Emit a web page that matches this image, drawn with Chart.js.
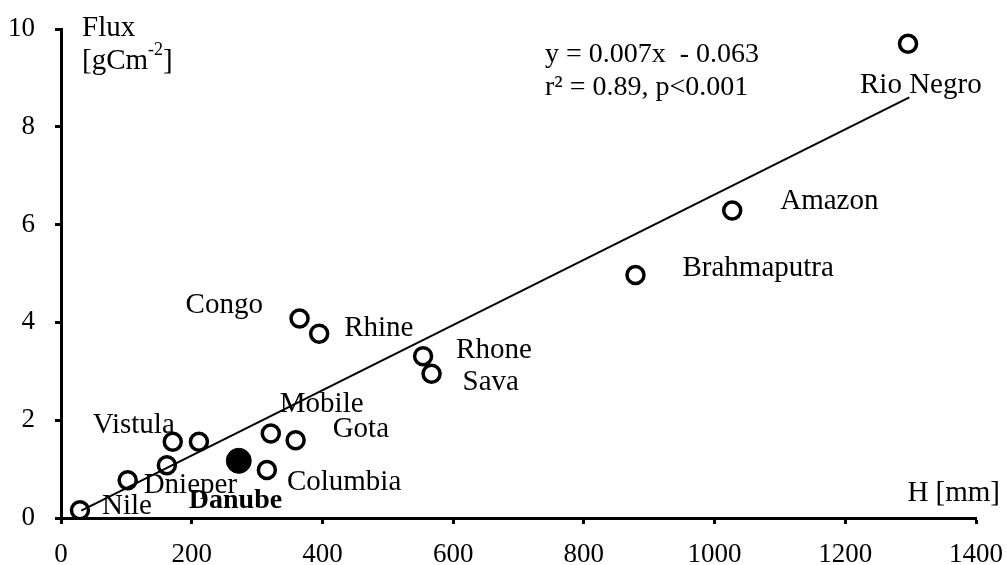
<!DOCTYPE html>
<html>
<head>
<meta charset="utf-8">
<script src="https://cdn.jsdelivr.net/npm/chart.js@4.4.1/dist/chart.umd.min.js"></script>
<style>
  html, body { margin: 0; padding: 0; background: #fff; }
  #wrap { width: 1007px; height: 565px; position: relative; }
</style>
</head>
<body>
<div id="wrap"><canvas id="c" width="1007" height="565"></canvas></div>
<script>
// rivers: H [mm] vs flux [gC m-2]
const rivers = ["Nile", "Dnieper", "", "Vistula", "", "Columbia", "Mobile", "Gota",
  "Congo", "Rhine", "Rhone", "Sava", "Brahmaputra", "Amazon", "Rio Negro"];
const hValues = [29, 102, 162, 171, 211, 315, 321, 359, 365, 395, 554, 567, 879, 1027, 1296];
const fluxValues = [0.16, 0.77, 1.08, 1.56, 1.56, 0.98, 1.73, 1.59, 4.08, 3.77, 3.31, 2.95, 4.97, 6.29, 9.70];

// highlighted river
const danubeName = "Danube";
const danubeH = [272];
const danubeFlux = [1.17];

// fitted line as drawn (end points)
const fitH = [31, 1298];
const fitFlux = [0.15, 8.6];

const xTicks = [0, 200, 400, 600, 800, 1000, 1200, 1400];
const yTicks = [0, 2, 4, 6, 8, 10];

// label offsets in px from the point (text left, baseline)
const labelOffsets = {
  "Nile": [22, 4], "Dnieper": [16, 13], "Vistula": [-80, -9], "Columbia": [20, 20],
  "Mobile": [9, -21], "Gota": [37, -3], "Congo": [-114, -5], "Rhine": [25, 2],
  "Rhone": [33, 2], "Sava": [31, 16], "Brahmaputra": [47, 1], "Amazon": [48, -1],
  "Rio Negro": [-48, 49], "Danube": [-50, 47]
};

const FONT = "'Liberation Serif', 'Times New Roman', serif";
const LABEL_SIZE = 29;

const labelPlugin = {
  id: "riverLabels",
  afterDatasetsDraw(chart) {
    const ctx = chart.ctx;
    const xs = chart.scales.x, ys = chart.scales.y;
    const area = chart.chartArea;
    ctx.save();
    ctx.fillStyle = "#000";
    ctx.textBaseline = "alphabetic";
    ctx.textAlign = "left";
    ctx.font = `${LABEL_SIZE}px ${FONT}`;
    rivers.forEach((name, i) => {
      if (!name) return;
      const o = labelOffsets[name];
      ctx.fillText(name, xs.getPixelForValue(hValues[i]) + o[0], ys.getPixelForValue(fluxValues[i]) + o[1]);
    });
    ctx.font = `bold ${LABEL_SIZE - 1}px ${FONT}`;
    const od = labelOffsets[danubeName];
    ctx.fillText(danubeName, xs.getPixelForValue(danubeH[0]) + od[0], ys.getPixelForValue(danubeFlux[0]) + od[1]);

    // axis titles + equation
    ctx.font = `${LABEL_SIZE}px ${FONT}`;
    ctx.fillText("Flux", area.left + 21, area.top + 7);
    ctx.fillText("[gCm", area.left + 21, area.top + 40);
    let w = ctx.measureText("[gCm").width;
    ctx.font = `18px ${FONT}`;
    ctx.fillText("-2", area.left + 21 + w, area.top + 26);
    let w2 = ctx.measureText("-2").width;
    ctx.font = `${LABEL_SIZE}px ${FONT}`;
    ctx.fillText("]", area.left + 21 + w + w2, area.top + 40);

    ctx.textAlign = "right";
    ctx.fillText("H [mm]", area.right + 24, area.bottom - 17);

    ctx.textAlign = "left";
    ctx.font = `28px ${FONT}`;
    ctx.fillText("y = 0.007x  - 0.063", 545, 62);
    ctx.fillText("r\u00B2 = 0.89, p<0.001", 545, 95);
    ctx.restore();
  }
};

new Chart(document.getElementById("c"), {
  type: "scatter",
  data: {
    datasets: [
      {
        type: "line",
        data: fitH.map((h, i) => ({ x: h, y: fitFlux[i] })),
        borderColor: "#000",
        borderWidth: 2,
        pointRadius: 0,
        fill: false
      },
      {
        data: hValues.map((h, i) => ({ x: h, y: fluxValues[i] })),
        pointStyle: "circle",
        pointRadius: 8.5,
        pointBorderWidth: 3.5,
        pointBorderColor: "#000",
        pointBackgroundColor: "#fff"
      },
      {
        data: danubeH.map((h, i) => ({ x: h, y: danubeFlux[i] })),
        pointStyle: "circle",
        pointRadius: 12.5,
        pointBorderWidth: 1,
        pointBorderColor: "#000",
        pointBackgroundColor: "#000"
      }
    ]
  },
  options: {
    responsive: false,
    animation: false,
    layout: { autoPadding: false, padding: { top: 29, right: 31, left: 0, bottom: 0 } },
    plugins: { legend: { display: false }, tooltip: { enabled: false } },
    scales: {
      x: {
        type: "linear", min: 0, max: 1400,
        afterBuildTicks: (s) => { s.ticks = xTicks.map((v) => ({ value: v })); },
        afterFit: (s) => { s.height = 47; s.paddingLeft = 0; s.paddingRight = 0; },
        border: { color: "#000", width: 3 },
        grid: { drawOnChartArea: false, drawTicks: true, tickLength: 6, tickColor: "#000", tickWidth: 3 },
        ticks: { color: "#000", padding: 15, maxRotation: 0, font: { family: FONT, size: 27 },
          callback: (v) => String(v) }
      },
      y: {
        type: "linear", min: 0, max: 10,
        afterBuildTicks: (s) => { s.ticks = yTicks.map((v) => ({ value: v })); },
        afterFit: (s) => { s.width = 61; s.paddingTop = 0; s.paddingBottom = 0; },
        border: { color: "#000", width: 3 },
        grid: { drawOnChartArea: false, drawTicks: true, tickLength: 6, tickColor: "#000", tickWidth: 3 },
        ticks: { color: "#000", padding: 20, font: { family: FONT, size: 27 },
          callback: (v) => String(v) }
      }
    }
  },
  plugins: [labelPlugin]
});
</script>
</body>
</html>
